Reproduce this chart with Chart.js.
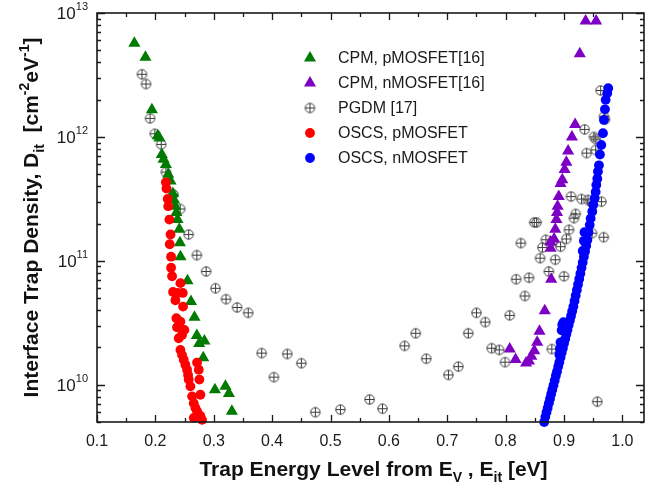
<!DOCTYPE html>
<html>
<head>
<meta charset="utf-8">
<script src="https://cdn.jsdelivr.net/npm/chart.js@4.4.1/dist/chart.umd.min.js"></script>
<style>
  html, body { margin: 0; padding: 0; background: #fff; }
  #wrap { width: 651px; height: 488px; }
</style>
</head>
<body>
<div id="wrap"><canvas id="chart" width="651" height="488"></canvas></div>
<script>
// series (x = trap energy in eV, y = Dit in cm^-2 eV^-1)
const cpmPX = [0.164, 0.183, 0.194, 0.204, 0.207, 0.211, 0.214, 0.218, 0.222, 0.226, 0.230, 0.232, 0.234, 0.236, 0.238, 0.241, 0.242, 0.243, 0.255, 0.261, 0.267, 0.271, 0.275, 0.284, 0.282, 0.302, 0.320, 0.326, 0.331];
const cpmPY = [5.7e12, 4.4e12, 1.66e12, 1.02e12, 9.8e11, 7.2e11, 6.6e11, 6.0e11, 5.0e11, 4.4e11, 3.5e11, 3.1e11, 2.75e11, 2.45e11, 2.15e11, 1.8e11, 1.4e11, 1.08e11, 6.9e10, 4.7e10, 3.5e10, 2.5e10, 2.15e10, 2.25e10, 1.65e10, 9.1e9, 9.7e9, 8.5e9, 6.1e9];

const cpmNX = [0.937, 0.955, 0.927, 0.919, 0.9135, 0.907, 0.904, 0.901, 0.897, 0.894, 0.891, 0.889, 0.888, 0.887, 0.885, 0.883, 0.877, 0.877, 0.878, 0.867, 0.858, 0.854, 0.849, 0.844, 0.840, 0.835, 0.817, 0.807];
const cpmNY = [8.6e12, 8.6e12, 4.7e12, 1.26e12, 1.0e12, 7.7e11, 6.25e11, 5.45e11, 4.5e11, 4.2e11, 3.3e11, 2.75e11, 2.45e11, 2.15e11, 1.8e11, 1.5e11, 1.42e11, 1.26e11, 7.1e10, 3.95e10, 2.7e10, 2.2e10, 1.88e10, 1.7e10, 1.55e10, 1.5e10, 1.6e10, 1.94e10];

const pgdmX = [0.177, 0.184, 0.191, 0.199, 0.210, 0.218, 0.231, 0.2425, 0.257, 0.271, 0.287, 0.303, 0.321, 0.340, 0.359, 0.382, 0.403, 0.426, 0.450, 0.474, 0.517, 0.567, 0.589, 0.627, 0.646, 0.664, 0.702, 0.719, 0.736, 0.750, 0.765, 0.776, 0.789, 0.799, 0.807, 0.818, 0.833, 0.840, 0.826, 0.849, 0.853, 0.859, 0.863, 0.869, 0.874, 0.879, 0.880, 0.885, 0.894, 0.900, 0.904, 0.9085, 0.917, 0.920, 0.948, 0.968, 0.957, 0.912, 0.930, 0.941, 0.947, 0.964, 0.9353, 0.9513, 0.9545, 0.9388, 0.9542, 0.9627, 0.9684, 0.9701];
const pgdmY = [3.2e12, 2.67e12, 1.41e12, 1.06e12, 8.7e11, 5.2e11, 3.43e11, 2.62e11, 1.63e11, 1.11e11, 8.2e10, 6.0e10, 4.9e10, 4.2e10, 3.8e10, 1.8e10, 1.15e10, 1.77e10, 1.49e10, 6.0e9, 6.3e9, 7.6e9, 6.4e9, 2.06e10, 2.6e10, 1.62e10, 1.2e10, 1.4e10, 2.6e10, 3.8e10, 3.2e10, 1.97e10, 1.91e10, 1.52e10, 3.63e10, 7.1e10, 5.2e10, 7.3e10, 1.39e11, 2.04e11, 2.04e11, 1.05e11, 1.28e11, 1.48e11, 8.2e10, 1.94e10, 1.43e11, 1.02e11, 1.3e11, 7.5e10, 1.5e11, 1.78e11, 2.21e11, 2.39e11, 1.67e11, 1.55e11, 7.3e9, 3.3e11, 3.15e11, 3.1e11, 2.95e11, 3.0e11, 1.15e12, 1.0e12, 9.6e11, 7.4e11, 7.85e11, 2.37e12, 1.46e12, 1.38e12];

const oscsPX = [0.218, 0.219, 0.221, 0.222, 0.224, 0.226, 0.2246, 0.2269, 0.2269, 0.2286, 0.2429, 0.2303, 0.2383, 0.2469, 0.2343, 0.2474, 0.236, 0.2429, 0.2371, 0.2497, 0.2457, 0.240, 0.2429, 0.2457, 0.2486, 0.2514, 0.2543, 0.256, 0.2714, 0.2743, 0.2754, 0.2571, 0.260, 0.2629, 0.2657, 0.2771, 0.2686, 0.2714, 0.2743, 0.2771, 0.280, 0.2657];
const oscsPY = [4.3e11, 3.83e11, 3.16e11, 2.76e11, 2.15e11, 1.63e11, 1.36e11, 1.08e11, 8.8e10, 7.5e10, 6.6e10, 5.6e10, 5.5e10, 5.5e10, 4.8e10, 4.27e10, 3.44e10, 3.23e10, 2.91e10, 2.77e10, 2.52e10, 2.37e10, 1.91e10, 1.74e10, 1.59e10, 1.45e10, 1.32e10, 1.2e10, 1.51e10, 1.32e10, 1.1e10, 1.1e10, 9.7e9, 8.05e9, 7.1e9, 8.3e9, 6.5e9, 6.1e9, 5.7e9, 5.6e9, 5.2e9, 5.4e9];

const oscsNX = [0.866, 0.868, 0.870, 0.872, 0.874, 0.876, 0.878, 0.880, 0.882, 0.884, 0.886, 0.888, 0.890, 0.892, 0.894, 0.896, 0.898, 0.900, 0.902, 0.904, 0.906, 0.908, 0.910, 0.912, 0.914, 0.916, 0.918, 0.920, 0.922, 0.924, 0.926, 0.928, 0.930, 0.932, 0.934, 0.936, 0.938, 0.940, 0.942, 0.944, 0.892, 0.893, 0.894, 0.896, 0.897, 0.899, 0.932, 0.934, 0.935, 0.9456, 0.9484, 0.9501, 0.9525, 0.9542, 0.9553, 0.957, 0.9581, 0.9598, 0.9615, 0.9638, 0.9667, 0.9684, 0.9701, 0.9713, 0.974, 0.9757];
const oscsNY = [5.0e9, 5.5e9, 6.0e9, 6.5e9, 7.1e9, 7.7e9, 8.4e9, 9.1e9, 9.9e9, 1.08e10, 1.18e10, 1.28e10, 1.40e10, 1.52e10, 1.66e10, 1.81e10, 1.97e10, 2.15e10, 2.34e10, 2.55e10, 2.78e10, 3.03e10, 3.30e10, 3.59e10, 3.91e10, 4.27e10, 4.73e10, 5.24e10, 5.81e10, 6.44e10, 7.13e10, 7.91e10, 8.77e10, 9.71e10, 1.08e11, 1.19e11, 1.32e11, 1.47e11, 1.70e11, 1.95e11, 1.75e10, 1.95e10, 2.2e10, 2.75e10, 3.05e10, 3.2e10, 1.2e11, 1.45e11, 1.7e11, 2.2e11, 2.5e11, 2.83e11, 3.2e11, 3.6e11, 4.1e11, 4.6e11, 5.25e11, 5.9e11, 7.2e11, 8.6e11, 1.07e12, 1.37e12, 1.67e12, 1.99e12, 2.25e12, 2.47e12];

const seriesNames = ['CPM, pMOSFET[16]', 'CPM, nMOSFET[16]', 'PGDM [17]', 'OSCS, pMOSFET', 'OSCS, nMOSFET'];

// axes
const xTicks = [0.1, 0.2, 0.3, 0.4, 0.5, 0.6, 0.7, 0.8, 0.9, 1.0];
const xTickLabels = ['0.1', '0.2', '0.3', '0.4', '0.5', '0.6', '0.7', '0.8', '0.9', '1.0'];
const yTicks = [1e10, 1e11, 1e12, 1e13];
const yTickExps = ['10', '11', '12', '13'];

const FONT = "'Liberation Sans', Arial, sans-serif";

const pts = (xs, ys) => xs.map((x, i) => ({ x: x, y: ys[i] }));

// circle-with-plus marker for PGDM
const plusCircle = document.createElement('canvas');
plusCircle.width = 13;
plusCircle.height = 13;
(function () {
  const c = plusCircle.getContext('2d');
  c.strokeStyle = '#3c3c3c';
  c.lineWidth = 1;
  c.beginPath();
  c.arc(6.5, 6.5, 4.7, 0, Math.PI * 2);
  c.moveTo(1.8, 6.5); c.lineTo(11.2, 6.5);
  c.moveTo(6.5, 1.8); c.lineTo(6.5, 11.2);
  c.stroke();
})();

const markers = [
  { style: 'triangle', color: '#007a00', r: 7 },
  { style: 'triangle', color: '#7d00c4', r: 7 },
  { style: plusCircle, color: '#3c3c3c', r: 5 },
  { style: 'circle', color: '#ff0000', r: 4.9 },
  { style: 'circle', color: '#0000ff', r: 4.9 }
];

function drawMarker(ctx, m, x, y) {
  ctx.save();
  ctx.fillStyle = m.color;
  if (m.style === 'triangle') {
    ctx.beginPath();
    ctx.moveTo(x, y - m.r);
    ctx.lineTo(x + Math.sin(Math.PI * 2 / 3) * m.r, y + m.r / 2);
    ctx.lineTo(x - Math.sin(Math.PI * 2 / 3) * m.r, y + m.r / 2);
    ctx.closePath();
    ctx.fill();
  } else if (m.style === 'circle') {
    ctx.beginPath();
    ctx.arc(x, y, m.r, 0, Math.PI * 2);
    ctx.fill();
  } else {
    ctx.drawImage(m.style, x - 6.5, y - 6.5);
  }
  ctx.restore();
}

// text with sub/superscripts: parts = [[text, 0 normal | 1 sub | 2 sup]]
function drawRich(ctx, parts, cx, y, size) {
  const fontOf = (m) => 'bold ' + (m ? Math.round(size * 0.66) : size) + 'px ' + FONT;
  let total = 0;
  parts.forEach(([t, m]) => { ctx.font = fontOf(m); total += ctx.measureText(t).width; });
  let x = cx - total / 2;
  parts.forEach(([t, m]) => {
    ctx.font = fontOf(m);
    const dy = m === 1 ? size * 0.3 : (m === 2 ? -size * 0.42 : 0);
    ctx.fillText(t, x, y + dy);
    x += ctx.measureText(t).width;
  });
}

const framePlugin = {
  id: 'frame',
  afterDraw(chart) {
    const { ctx, chartArea: a, scales } = chart;
    const xs = scales.x, ys = scales.y;
    ctx.save();
    ctx.strokeStyle = '#1a1a1a';

    // ticks, pointing inward on all four sides
    ctx.lineWidth = 1.3;
    ctx.beginPath();
    const xMinor = [];
    for (let i = 0; i < 9; i++) xMinor.push(0.15 + i * 0.1);
    xTicks.forEach(v => {
      const p = Math.round(xs.getPixelForValue(v)) + 0.5;
      ctx.moveTo(p, a.bottom); ctx.lineTo(p, a.bottom - 7);
      ctx.moveTo(p, a.top); ctx.lineTo(p, a.top + 7);
    });
    xMinor.forEach(v => {
      const p = Math.round(xs.getPixelForValue(v)) + 0.5;
      ctx.moveTo(p, a.bottom); ctx.lineTo(p, a.bottom - 4);
      ctx.moveTo(p, a.top); ctx.lineTo(p, a.top + 4);
    });
    yTicks.forEach(v => {
      const p = Math.round(ys.getPixelForValue(v)) + 0.5;
      ctx.moveTo(a.left, p); ctx.lineTo(a.left + 8, p);
      ctx.moveTo(a.right, p); ctx.lineTo(a.right - 8, p);
    });
    for (let d = 9; d <= 12; d++) {
      for (let m = 2; m <= 9; m++) {
        const v = m * Math.pow(10, d);
        if (v < ys.min || v > ys.max) continue;
        const p = Math.round(ys.getPixelForValue(v)) + 0.5;
        ctx.moveTo(a.left, p); ctx.lineTo(a.left + 4, p);
        ctx.moveTo(a.right, p); ctx.lineTo(a.right - 4, p);
      }
    }
    ctx.stroke();

    // box
    ctx.lineWidth = 1.6;
    ctx.strokeRect(a.left, a.top, a.right - a.left, a.bottom - a.top);

    // x tick labels
    ctx.fillStyle = '#1a1a1a';
    ctx.font = '16px ' + FONT;
    ctx.textAlign = 'center';
    ctx.textBaseline = 'alphabetic';
    xTicks.forEach((v, i) => ctx.fillText(xTickLabels[i], xs.getPixelForValue(v), a.bottom + 24));

    // y tick labels 10^n
    ctx.textAlign = 'left';
    yTicks.forEach((v, i) => {
      const p = ys.getPixelForValue(v);
      ctx.font = '11px ' + FONT;
      const ew = ctx.measureText(yTickExps[i]).width;
      ctx.font = '17px ' + FONT;
      const bw = ctx.measureText('10').width;
      const x0 = a.left - 9 - ew - bw;
      ctx.fillText('10', x0, p + 6);
      ctx.font = '11px ' + FONT;
      ctx.fillText(yTickExps[i], x0 + bw, p - 3);
    });

    // axis titles
    ctx.fillStyle = '#111';
    drawRich(ctx, [['Trap Energy Level from E', 0], ['V', 1], [' , E', 0], ['it', 1], [' [eV]', 0]],
      (a.left + a.right) / 2 + 3, a.bottom + 54, 21);
    ctx.save();
    ctx.translate(38, (a.top + a.bottom) / 2);
    ctx.rotate(-Math.PI / 2);
    drawRich(ctx, [['Interface Trap Density, D', 0], ['it', 1], ['  [cm', 0], ['-2', 2], ['eV', 0], ['-1', 2], [']', 0]],
      0, 0, 21);
    ctx.restore();

    // legend inside the plot
    ctx.font = '16px ' + FONT;
    ctx.textAlign = 'left';
    ctx.textBaseline = 'middle';
    ctx.fillStyle = '#1a1a1a';
    seriesNames.forEach((name, i) => {
      const y = 58 + i * 25;
      drawMarker(ctx, markers[i], 310, y);
      ctx.fillText(name, 338, y + 1);
    });
    ctx.restore();
  }
};

const seriesX = [cpmPX, cpmNX, pgdmX, oscsPX, oscsNX];
const seriesY = [cpmPY, cpmNY, pgdmY, oscsPY, oscsNY];
const drawOrder = [4, 3, 5, 2, 1];

const datasets = seriesNames.map((name, i) => ({
  label: name,
  data: pts(seriesX[i], seriesY[i]),
  pointStyle: markers[i].style,
  pointRadius: markers[i].r,
  pointBackgroundColor: markers[i].style === plusCircle ? 'transparent' : markers[i].color,
  pointBorderColor: markers[i].color,
  pointBorderWidth: 0,
  showLine: false,
  order: drawOrder[i],
  clip: 8
}));

new Chart(document.getElementById('chart'), {
  type: 'scatter',
  data: { datasets: datasets },
  options: {
    responsive: false,
    animation: false,
    layout: { padding: { left: 97, right: 6, top: 13, bottom: 66 } },
    plugins: { legend: { display: false }, tooltip: { enabled: false } },
    scales: {
      x: { type: 'linear', min: 0.1, max: 1.037, display: false },
      y: { type: 'logarithmic', min: 5e9, max: 1e13, display: false }
    }
  },
  plugins: [framePlugin]
});
</script>
</body>
</html>
